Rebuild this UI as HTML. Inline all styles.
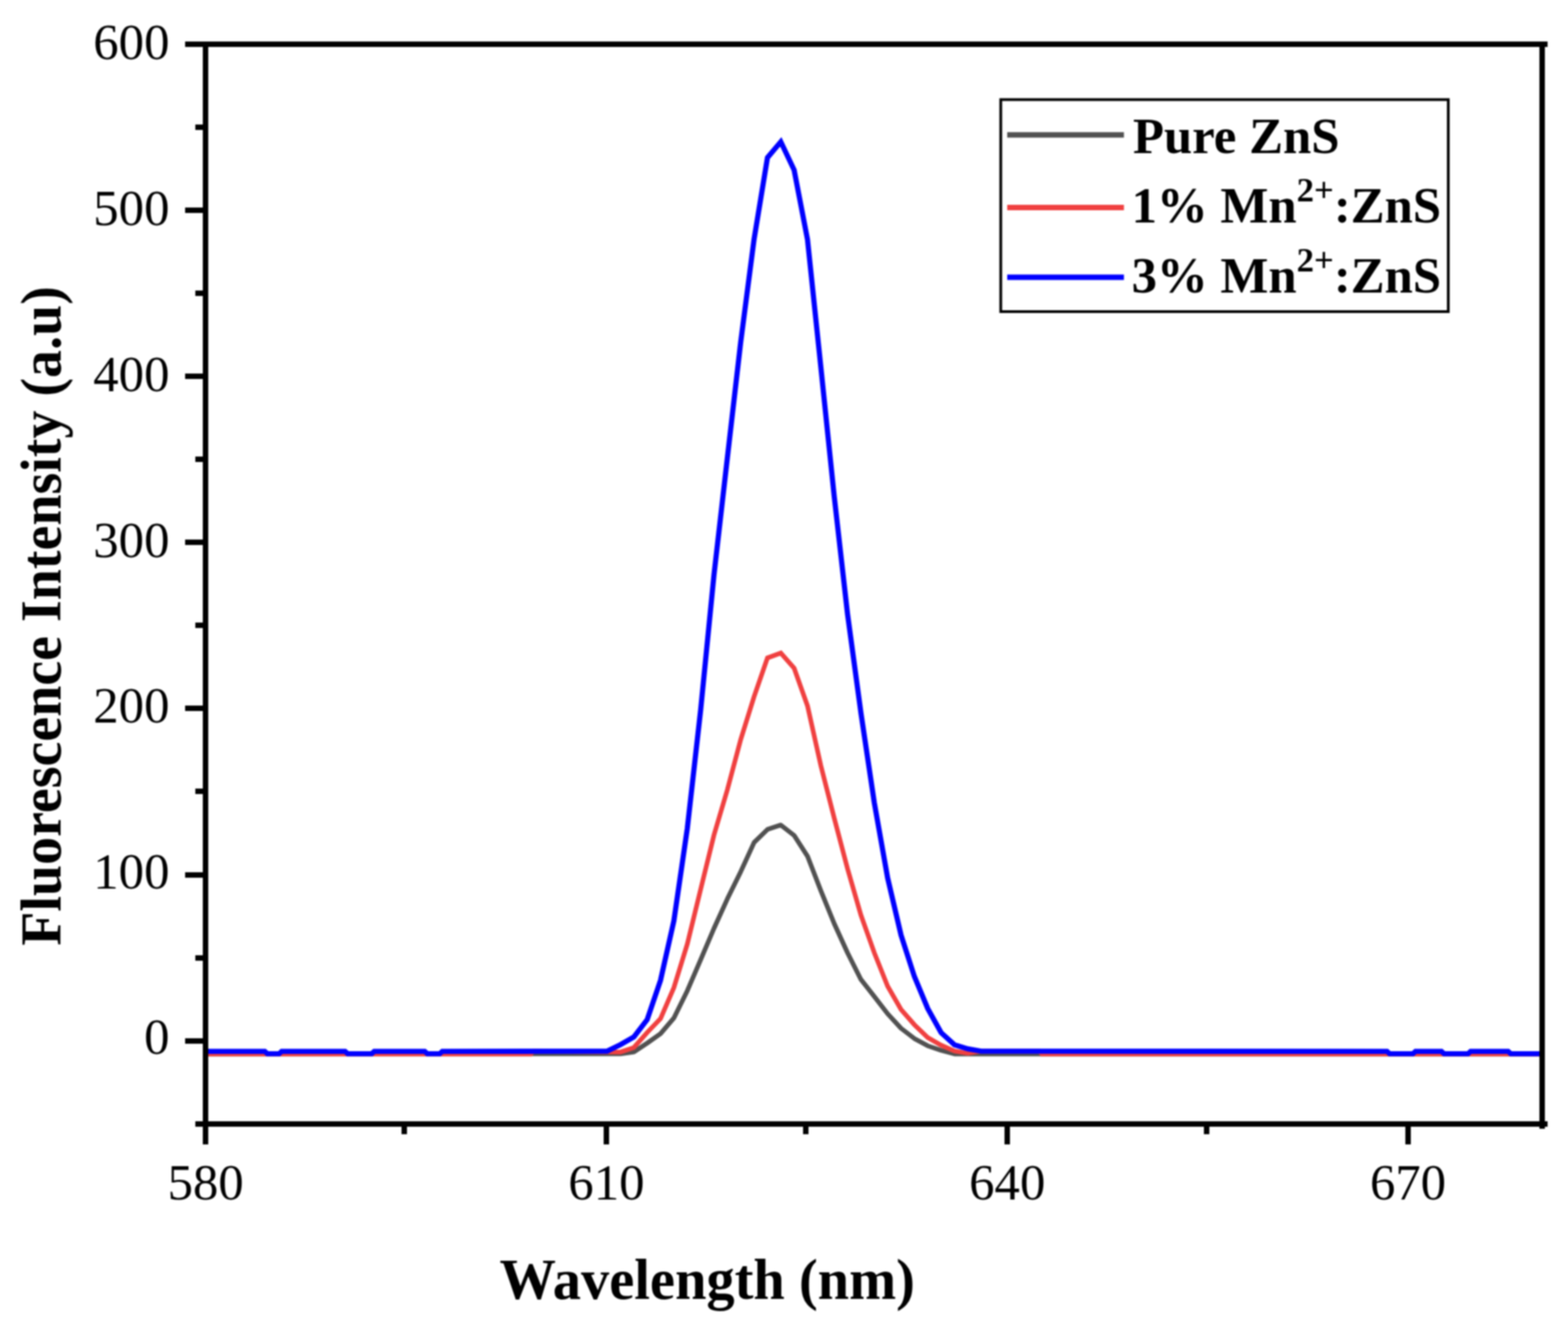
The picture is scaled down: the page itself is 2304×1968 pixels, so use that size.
<!DOCTYPE html>
<html lang="en"><head><meta charset="utf-8"><title>Fluorescence spectra of Mn2+:ZnS</title>
<style>html,body{margin:0;padding:0;background:#fff;overflow:hidden}svg{display:block}text{font-family:"Liberation Serif", serif;fill:#000}.tk{font-size:74.67px}.lg{font-size:74.67px;font-weight:bold}.ax{font-size:85.33px;font-weight:bold}</style></head><body>
<svg width="2304" height="1968" viewBox="0 0 2304 1968">
<rect width="2304" height="1968" fill="#fff"/>
<defs><filter id="soft" x="0" y="0" width="100%" height="100%" filterUnits="userSpaceOnUse" color-interpolation-filters="sRGB"><feGaussianBlur stdDeviation="1.1"/></filter></defs>
<g filter="url(#soft)">
<rect width="2304" height="1968" fill="#fff"/>
<g fill="none" stroke-linejoin="miter" stroke-miterlimit="6" stroke-linecap="butt">
<polyline stroke="#515151" stroke-width="6.8" stroke-linejoin="round" points="302.3,1549 911.7,1548.9 931.4,1546.2 951,1533.1 970.6,1519.3 990.2,1496.2 1009.9,1456.2 1029.5,1410.7 1049.1,1364.5 1068.8,1321.1 1088.4,1281.2 1108,1238.3 1127.7,1219.1 1147.3,1212.6 1166.9,1227.9 1186.5,1258.3 1206.2,1309.2 1225.8,1357.5 1245.4,1400.5 1265.1,1439.7 1284.7,1464.7 1304.3,1490 1324,1511.4 1343.6,1526.4 1363.2,1537.1 1382.8,1543.7 1402.5,1549 1422.1,1549 2266,1549"/>
<polyline stroke="#f04040" stroke-width="6.8" points="302.3,1549 780,1549 784,1545.2 911.7,1546.3 931.4,1539.6 951,1517.5 970.6,1497 990.2,1451.6 1009.9,1387.5 1029.5,1307.2 1049.1,1227.4 1068.8,1160.7 1088.4,1086.9 1108,1024 1127.7,967 1147.3,959.8 1166.9,982.1 1186.5,1037.3 1206.2,1125.5 1225.8,1202.3 1245.4,1276.9 1265.1,1345.1 1284.7,1400.4 1304.3,1449.5 1324,1483.8 1343.6,1506.1 1363.2,1524.9 1382.8,1536.1 1402.5,1544.8 1422.1,1548 1440,1545.2 1527,1545.2 1531,1549 2266,1549"/>
<polyline stroke="#0000ff" stroke-width="7.6" points="302.3,1545.2 389,1545.2 393,1548.8 410,1548.8 414,1545.2 507,1545.2 511,1548.8 546,1548.8 550,1545.2 624,1545.2 628,1548.8 646,1548.8 650,1545.2 892.1,1545 911.7,1535.3 931.4,1524.1 951,1498.5 970.6,1440.6 990.2,1353.4 1009.9,1217.8 1029.5,1043.8 1049.1,845.1 1068.8,672.8 1088.4,502.6 1108,351.8 1127.7,231.7 1147.3,208.4 1166.9,250 1186.5,351.7 1206.2,540.1 1225.8,729.6 1245.4,902.7 1265.1,1048.2 1284.7,1179.8 1304.3,1290.4 1324,1374.4 1343.6,1435.3 1363.2,1482.3 1382.8,1517.7 1402.5,1535.6 1422.1,1541.6 1441.7,1545 2038,1545.2 2042,1548.8 2076,1548.8 2080,1545.2 2118,1545.2 2122,1548.8 2157,1548.8 2161,1545.2 2216,1545.2 2220,1548.8 2266,1548.8"/>
</g>
<g fill="#000" shape-rendering="crispEdges">
<rect x="298.3" y="61" width="8" height="1621"/>
<rect x="2262" y="61" width="8" height="1597.5"/>
<rect x="272" y="61" width="2001.5" height="8"/>
<rect x="287" y="1647.7" width="1986.5" height="8"/>
<rect x="272" y="1525.6" width="30.3" height="8"/>
<rect x="272" y="1281.5" width="30.3" height="8"/>
<rect x="272" y="1037.4" width="30.3" height="8"/>
<rect x="272" y="793.3" width="30.3" height="8"/>
<rect x="272" y="549.2" width="30.3" height="8"/>
<rect x="272" y="305.1" width="30.3" height="8"/>
<rect x="287" y="1403.5" width="15.3" height="8"/>
<rect x="287" y="1159.4" width="15.3" height="8"/>
<rect x="287" y="915.3" width="15.3" height="8"/>
<rect x="287" y="671.2" width="15.3" height="8"/>
<rect x="287" y="427.1" width="15.3" height="8"/>
<rect x="287" y="183.1" width="15.3" height="8"/>
<rect x="887.1" y="1651.7" width="8" height="30.3"/>
<rect x="1476" y="1651.7" width="8" height="30.3"/>
<rect x="2064.9" y="1651.7" width="8" height="30.3"/>
<rect x="590.3" y="1651.7" width="8" height="14.8"/>
<rect x="1179.8" y="1651.7" width="8" height="14.8"/>
<rect x="1768.5" y="1651.7" width="8" height="14.8"/>
</g>
<g class="tk">
<text x="249" y="87.4" text-anchor="end">600</text>
<text x="249" y="331.3" text-anchor="end">500</text>
<text x="249" y="574.9" text-anchor="end">400</text>
<text x="249" y="818.9" text-anchor="end">300</text>
<text x="249" y="1061.9" text-anchor="end">200</text>
<text x="249" y="1305.8" text-anchor="end">100</text>
<text x="249" y="1548.6" text-anchor="end">0</text>
<text x="302.2" y="1763" text-anchor="middle">580</text>
<text x="891.1" y="1763" text-anchor="middle">610</text>
<text x="1480" y="1763" text-anchor="middle">640</text>
<text x="2068.9" y="1763" text-anchor="middle">670</text>
</g>
<text class="ax" transform="translate(734,1909) scale(0.972,1)" x="0" y="0">Wavelength (nm)</text>
<text class="ax" transform="translate(88.8,1390) rotate(-90) scale(0.964,1)" x="0" y="0">Fluorescence Intensity (a.u)</text>
<rect x="1470.5" y="146.4" width="657.6" height="311.6" fill="#fff" stroke="#000" stroke-width="4"/>
<g fill="none" stroke-width="8">
<line x1="1480" y1="198.3" x2="1651.5" y2="198.3" stroke="#515151"/>
<line x1="1480" y1="305.0" x2="1651.5" y2="305.0" stroke="#f04040"/>
<line x1="1480" y1="407.5" x2="1651.5" y2="407.5" stroke="#0000ff"/>
</g>
<g class="lg">
<text x="1664.7" y="224.7">Pure ZnS</text>
<text x="1662.7" y="327.4">1% Mn<tspan dy="-31" font-size="51">2+</tspan><tspan dy="31">:ZnS</tspan></text>
<text x="1662.7" y="430.1">3% Mn<tspan dy="-31" font-size="51">2+</tspan><tspan dy="31">:ZnS</tspan></text>
</g>
</g>
</svg></body></html>
